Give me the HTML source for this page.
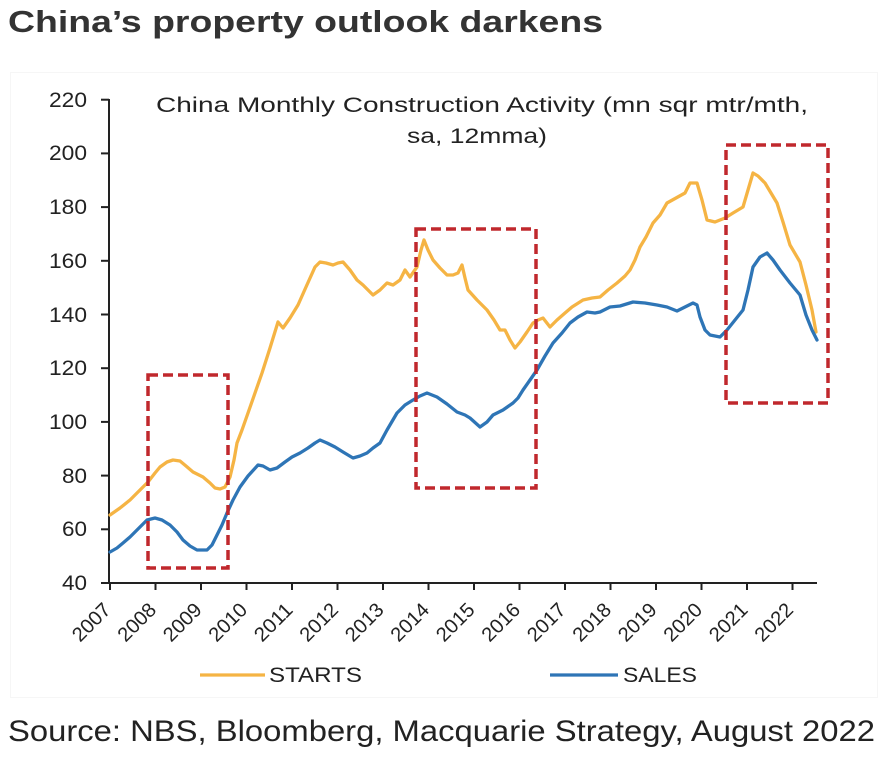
<!DOCTYPE html>
<html>
<head>
<meta charset="utf-8">
<style>
  html, body { margin: 0; padding: 0; background: #ffffff; }
  body { width: 888px; height: 768px; overflow: hidden; }
  svg { display: block; }
  text { font-family: "Liberation Sans", Arial, sans-serif; }
</style>
</head>
<body>
<svg width="888" height="768" viewBox="0 0 888 768" xmlns="http://www.w3.org/2000/svg">
  <rect x="0" y="0" width="888" height="768" fill="#ffffff"/>

  <!-- Main title -->
  <text x="8" y="32" font-size="31" font-weight="bold" fill="#333333" textLength="595" lengthAdjust="spacingAndGlyphs">China’s property outlook darkens</text>

  <!-- Chart panel border -->
  <rect x="10.5" y="72.5" width="867" height="625" fill="#ffffff" stroke="#f6f6f6" stroke-width="1"/>

  <!-- Chart title -->
  <text x="156" y="112" font-size="21" fill="#222222" textLength="652" lengthAdjust="spacingAndGlyphs">China Monthly Construction Activity (mn sqr mtr/mth,</text>
  <text x="407" y="143" font-size="21" fill="#222222" textLength="140" lengthAdjust="spacingAndGlyphs">sa, 12mma)</text>

  <!-- Y axis labels -->
  <g font-size="21" fill="#222222" text-anchor="end">
    <text x="87" y="107" textLength="38" lengthAdjust="spacingAndGlyphs">220</text>
    <text x="87" y="160" textLength="38" lengthAdjust="spacingAndGlyphs">200</text>
    <text x="87" y="214" textLength="38" lengthAdjust="spacingAndGlyphs">180</text>
    <text x="87" y="268" textLength="38" lengthAdjust="spacingAndGlyphs">160</text>
    <text x="87" y="322" textLength="38" lengthAdjust="spacingAndGlyphs">140</text>
    <text x="87" y="375" textLength="38" lengthAdjust="spacingAndGlyphs">120</text>
    <text x="87" y="429" textLength="38" lengthAdjust="spacingAndGlyphs">100</text>
    <text x="87" y="483" textLength="25" lengthAdjust="spacingAndGlyphs">80</text>
    <text x="87" y="536" textLength="25" lengthAdjust="spacingAndGlyphs">60</text>
    <text x="87" y="590" textLength="25" lengthAdjust="spacingAndGlyphs">40</text>
  </g>

  <!-- Axes -->
  <g stroke="#222222" stroke-width="2" fill="none">
    <line x1="109" y1="99" x2="109" y2="584"/>
    <line x1="108" y1="583" x2="817" y2="583"/>
    <line x1="101" y1="99.7" x2="109" y2="99.7"/>
    <line x1="101" y1="153.4" x2="109" y2="153.4"/>
    <line x1="101" y1="207.1" x2="109" y2="207.1"/>
    <line x1="101" y1="260.8" x2="109" y2="260.8"/>
    <line x1="101" y1="314.5" x2="109" y2="314.5"/>
    <line x1="101" y1="368.2" x2="109" y2="368.2"/>
    <line x1="101" y1="421.9" x2="109" y2="421.9"/>
    <line x1="101" y1="475.6" x2="109" y2="475.6"/>
    <line x1="101" y1="529.3" x2="109" y2="529.3"/>
    <line x1="101" y1="583" x2="109" y2="583"/>
    <line x1="110" y1="583" x2="110" y2="590"/>
    <line x1="155.5" y1="583" x2="155.5" y2="590"/>
    <line x1="201" y1="583" x2="201" y2="590"/>
    <line x1="246.5" y1="583" x2="246.5" y2="590"/>
    <line x1="292" y1="583" x2="292" y2="590"/>
    <line x1="337.5" y1="583" x2="337.5" y2="590"/>
    <line x1="383" y1="583" x2="383" y2="590"/>
    <line x1="428.5" y1="583" x2="428.5" y2="590"/>
    <line x1="474" y1="583" x2="474" y2="590"/>
    <line x1="519.5" y1="583" x2="519.5" y2="590"/>
    <line x1="565" y1="583" x2="565" y2="590"/>
    <line x1="610.5" y1="583" x2="610.5" y2="590"/>
    <line x1="656" y1="583" x2="656" y2="590"/>
    <line x1="701.5" y1="583" x2="701.5" y2="590"/>
    <line x1="747" y1="583" x2="747" y2="590"/>
    <line x1="792.5" y1="583" x2="792.5" y2="590"/>
  </g>

  <!-- X axis labels (rotated -45) -->
  <g font-size="20" fill="#222222" text-anchor="end">
    <text transform="translate(112,611) rotate(-45)" textLength="45" lengthAdjust="spacingAndGlyphs">2007</text>
    <text transform="translate(157.5,611) rotate(-45)" textLength="45" lengthAdjust="spacingAndGlyphs">2008</text>
    <text transform="translate(203,611) rotate(-45)" textLength="45" lengthAdjust="spacingAndGlyphs">2009</text>
    <text transform="translate(248.5,611) rotate(-45)" textLength="45" lengthAdjust="spacingAndGlyphs">2010</text>
    <text transform="translate(294,611) rotate(-45)" textLength="45" lengthAdjust="spacingAndGlyphs">2011</text>
    <text transform="translate(339.5,611) rotate(-45)" textLength="45" lengthAdjust="spacingAndGlyphs">2012</text>
    <text transform="translate(385,611) rotate(-45)" textLength="45" lengthAdjust="spacingAndGlyphs">2013</text>
    <text transform="translate(430.5,611) rotate(-45)" textLength="45" lengthAdjust="spacingAndGlyphs">2014</text>
    <text transform="translate(476,611) rotate(-45)" textLength="45" lengthAdjust="spacingAndGlyphs">2015</text>
    <text transform="translate(521.5,611) rotate(-45)" textLength="45" lengthAdjust="spacingAndGlyphs">2016</text>
    <text transform="translate(567,611) rotate(-45)" textLength="45" lengthAdjust="spacingAndGlyphs">2017</text>
    <text transform="translate(612.5,611) rotate(-45)" textLength="45" lengthAdjust="spacingAndGlyphs">2018</text>
    <text transform="translate(658,611) rotate(-45)" textLength="45" lengthAdjust="spacingAndGlyphs">2019</text>
    <text transform="translate(703.5,611) rotate(-45)" textLength="45" lengthAdjust="spacingAndGlyphs">2020</text>
    <text transform="translate(749,611) rotate(-45)" textLength="45" lengthAdjust="spacingAndGlyphs">2021</text>
    <text transform="translate(794.5,611) rotate(-45)" textLength="45" lengthAdjust="spacingAndGlyphs">2022</text>
  </g>

  <!-- STARTS series -->
  <polyline fill="none" stroke="#F5B444" stroke-width="3.3" stroke-linejoin="round" stroke-linecap="round"
    points="110,515 120,508 130,500 140,490 148,482 155,473 160,467 167,462 173,460 180,461 186,466 193,472 203,477 210,483 215,488 220,489 225,487 230,477 234,460 237,443 242,430 248,413 255,393 262,373 270,348 278,322 283,328 290,318 298,305 306,287 315,267 320,262 326,263 333,265 338,263 343,262 350,270 357,280 363,285 368,290 373,295 380,290 387,283 393,285 400,280 405,270 410,277 417,267 421,250 424,240 428,250 433,260 440,268 447,275 453,275 458,273 462,265 465,278 468,290 477,300 487,310 494,320 500,330 505,330 510,340 515,348 520,342 527,332 533,323 538,320 543,318 550,327 557,320 565,313 572,307 583,300 592,298 600,297 608,290 617,283 625,276 630,270 635,260 640,247 646,237 653,223 660,215 667,203 676,198 685,193 690,183 697,183 702,200 707,220 715,222 725,218 733,213 743,207 748,190 753,173 758,176 765,183 771,193 777,203 783,222 790,245 800,262 806,285 812,310 816,332"/>

  <!-- SALES series -->
  <polyline fill="none" stroke="#2E75B6" stroke-width="3.3" stroke-linejoin="round" stroke-linecap="round"
    points="110,552 117,548 123,543 130,537 140,527 147,520 155,518 162,520 170,525 177,532 183,540 190,546 197,550 207,550 212,545 217,535 222,525 227,513 233,500 240,487 248,476 258,465 263,466 270,470 277,468 285,462 292,457 300,453 308,448 315,443 320,440 327,443 335,447 343,452 353,458 360,456 367,453 373,448 380,443 387,430 397,413 405,405 413,400 420,396 427,393 437,397 447,404 457,412 465,415 470,418 480,427 487,422 493,415 503,410 513,403 518,398 523,390 530,380 537,370 545,356 553,343 562,333 570,323 578,317 587,312 595,313 600,312 610,307 620,306 633,302 645,303 657,305 667,307 677,311 685,307 693,303 697,305 700,317 705,330 710,335 720,337 727,330 735,320 743,310 748,290 753,267 760,257 767,253 773,260 780,270 790,283 800,295 806,315 812,330 817,340"/>

  <!-- Red dashed boxes -->
  <g fill="none" stroke="#C0282D" stroke-width="3.5" stroke-dasharray="10 5">
    <rect x="148" y="375" width="80" height="193"/>
    <rect x="416" y="229" width="120" height="259"/>
    <rect x="726" y="145" width="102" height="258"/>
  </g>

  <!-- Legend -->
  <line x1="200" y1="675" x2="265" y2="675" stroke="#F5B444" stroke-width="3.3"/>
  <text x="269" y="682" font-size="21" fill="#222222" textLength="93" lengthAdjust="spacingAndGlyphs">STARTS</text>
  <line x1="550" y1="675" x2="618" y2="675" stroke="#2E75B6" stroke-width="3.3"/>
  <text x="623" y="682" font-size="21" fill="#222222" textLength="74" lengthAdjust="spacingAndGlyphs">SALES</text>

  <!-- Source -->
  <text x="8" y="741" font-size="30" fill="#222222" textLength="867" lengthAdjust="spacingAndGlyphs">Source: NBS, Bloomberg, Macquarie Strategy, August 2022</text>
</svg>
</body>
</html>
